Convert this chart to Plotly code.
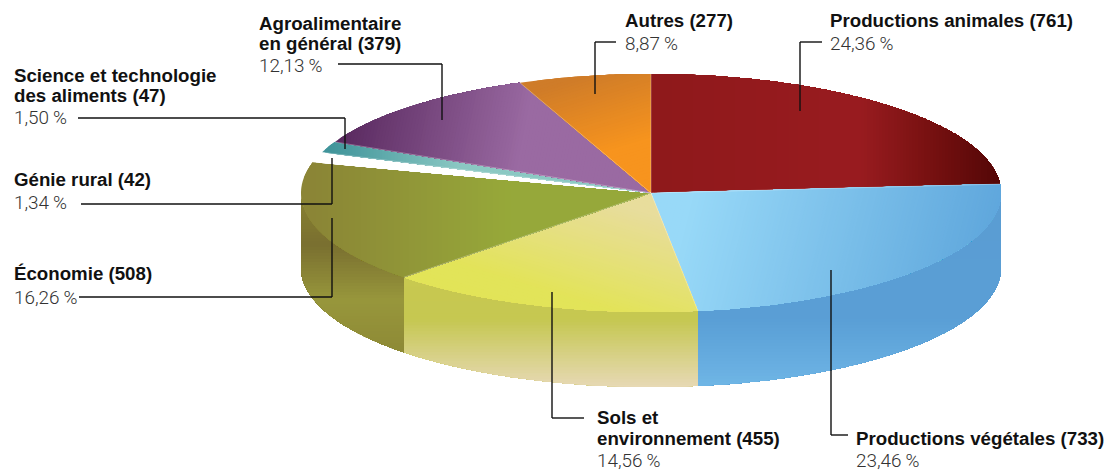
import numpy as np
import plotly.graph_objects as go

# slices, clockwise from the top of the pie
names = ["Productions animales", "Productions végétales", "Sols et environnement", "Économie",
         "Génie rural", "Science et technologie des aliments", "Agroalimentaire en général", "Autres"]
counts = [761, 733, 455, 508, 42, 47, 379, 277]
percents = ["24,36", "23,46", "14,56", "16,26", "1,34", "1,50", "12,13", "8,87"]
# the drawn slices do not follow the printed percentages, so sweep is read from the picture (degrees)
drawn_sweep = [85.7, 86.6, 52.6, 60.1, 5.0, 5.4, 42.6, 22.0]

# text lines of each label
label_lines = [["Productions animales (761)"], ["Productions végétales (733)"],
               ["Sols et", "environnement (455)"], ["Économie (508)"], ["Génie rural (42)"],
               ["Science et technologie", "des aliments (47)"], ["Agroalimentaire", "en général (379)"],
               ["Autres (277)"]]

# pie geometry in page pixels
CX, CY, RX, RY, DEPTH = 651, 193, 350, 119, 75

# gradient of each top face: direction (dx, dy) and stops (pixel position along direction, colour)
top_styles = [
    ((1, 0), [(651, "#8f191b"), (860, "#991c20"), (925, "#7a1212"), (1000, "#540707")]),
    ((1, 0.25), [(720, "#98d9f8"), (1030, "#5ea6dc")]),
    ((-0.3, 1), [(20, "#e8dd9c"), (120, "#e3e45a"), (190, "#e2e656")]),
    ((1, 0), [(310, "#8b8536"), (510, "#97a93a"), (650, "#96a83a")]),
    ((1, 0), [(300, "#ffffff"), (650, "#ffffff")]),
    ((1, 0), [(330, "#41959b"), (460, "#8bc8c3"), (650, "#8bc8c3")]),
    ((1, 0.2), [(360, "#5a2a60"), (540, "#9a6aa2"), (700, "#9a6aa2")]),
    ((0.3, 1), [(240, "#cf7c29"), (320, "#f7941e")]),
]
# gradient of the visible side walls, by slice index, vertical stops in pixels
wall_styles = {
    1: ((0, 1), [(200, "#5a9dd3"), (320, "#5a9fd6"), (386, "#6fb6e6")]),
    2: ((0, 1), [(285, "#c8c950"), (320, "#c6c852"), (386, "#e7d9b4")]),
    3: ((0, 1), [(190, "#8a8332"), (245, "#7a7030"), (300, "#98973c"), (352, "#8e8a36")]),
}


def hex_rgb(c):
    return np.array([int(c[i:i + 2], 16) for i in (1, 3, 5)], float)


def clip(poly, n, d):
    # keep the part of the polygon where n.p >= d
    out = []
    for i in range(len(poly)):
        p, q = poly[i], poly[(i + 1) % len(poly)]
        sp, sq = p[0] * n[0] + p[1] * n[1] - d, q[0] * n[0] + q[1] * n[1] - d
        if sp >= 0:
            out.append(p)
        if sp * sq < 0:
            u = sp / (sp - sq)
            out.append((p[0] + u * (q[0] - p[0]), p[1] + u * (q[1] - p[1])))
    return out


def arc(t0, t1, dy=0):
    n = max(2, int(abs(t1 - t0) * 1.5))
    ts = np.radians(np.linspace(t0, t1, n))
    return [(CX + RX * np.cos(t), CY - RY * np.sin(t) + dy) for t in ts]


def add_gradient(fig, poly, style):
    (dx, dy), stops = style
    norm = np.hypot(dx, dy)
    n = (dx / norm, dy / norm)
    pos = [s[0] for s in stops]
    cols = [hex_rgb(s[1]) for s in stops]
    proj = [p[0] * n[0] + p[1] * n[1] for p in poly]
    lo, hi = min(proj), max(proj)
    for d in np.arange(lo, hi, 3.0):
        rgb = [np.interp(d + 1.5, pos, [c[k] for c in cols]) for k in range(3)]
        part = clip(poly, n, d) if d > lo else poly
        if len(part) < 3:
            continue
        fig.add_trace(go.Scatter(x=[p[0] for p in part] + [part[0][0]], y=[p[1] for p in part] + [part[0][1]],
                                 mode="none", fill="toself", hoverinfo="skip", showlegend=False,
                                 fillcolor="rgb(%d,%d,%d)" % tuple(rgb)))


fig = go.Figure()

bounds = 90 - np.concatenate([[0], np.cumsum(drawn_sweep)])

# side walls first, only the front half of the pie shows
for i, style in wall_styles.items():
    t0, t1 = max(bounds[i + 1], -180), min(bounds[i], 0)
    add_gradient(fig, arc(t0, t1) + arc(t1, t0, DEPTH), style)

# top faces
for i in range(len(counts)):
    add_gradient(fig, [(CX, CY)] + arc(bounds[i], bounds[i + 1]), top_styles[i])

# thin pale seams between slices
for i in range(len(counts)):
    if names[i] == "Génie rural":
        continue
    seam = arc(bounds[i], bounds[i], 0)[0]
    fig.add_trace(go.Scatter(x=[CX, seam[0]], y=[CY, seam[1]], mode="lines", hoverinfo="skip", showlegend=False,
                             line=dict(color="rgba(255,255,255,0.3)", width=1)))

# leader lines (page pixels), same order as the slices
leaders = [
    [(822, 42), (800, 42), (800, 111)],
    [(848, 435), (831, 435), (831, 270)],
    [(584, 418), (552, 418), (552, 292)],
    [(79, 297), (332, 297), (332, 218)],
    [(81, 204), (332, 204), (332, 158)],
    [(78, 118), (345, 118), (345, 149)],
    [(338, 64), (442, 64), (442, 120)],
    [(616, 42), (595, 42), (595, 94)],
]
shapes = []
for pts in leaders:
    for a, b in zip(pts[:-1], pts[1:]):
        shapes.append(dict(type="line", x0=a[0], y0=a[1], x1=b[0], y1=b[1], layer="above",
                           line=dict(color="#111111", width=1.4)))

# label anchors: left edge, centre of each line
label_pos = [(830, [20], 43), (856, [438], 460), (597, [417, 438], 460), (14, [273], 297),
             (14, [179], 202), (14, [75, 95], 117), (259, [23, 43], 65), (625, [20], 43)]
annotations = []
for lines, pct, (x, ys, py) in zip(label_lines, percents, label_pos):
    for line, y in zip(lines, ys):
        annotations.append(dict(x=x, y=y, text="<b>%s</b>" % line, showarrow=False, xanchor="left", yanchor="middle",
                                xshift=-2, font=dict(family="Liberation Sans", size=18.7, color="#111111")))
    annotations.append(dict(x=x, y=py, text=pct + "\u2009%", showarrow=False, xanchor="left", yanchor="middle",
                            xshift=-2, font=dict(family="Roboto", weight=300, size=18.9, color="#333333")))

fig.update_layout(width=1108, height=472, margin=dict(l=0, r=0, t=0, b=0), paper_bgcolor="white",
                  plot_bgcolor="white", shapes=shapes, annotations=annotations, showlegend=False,
                  xaxis=dict(range=[0, 1108], visible=False, fixedrange=True),
                  yaxis=dict(range=[472, 0], visible=False, fixedrange=True))
# drop the page margin so the plot fills the window
fig.write_html("out.html", config={"displayModeBar": False},
               post_script="document.body.style.margin='0';document.documentElement.style.overflow='hidden';")
